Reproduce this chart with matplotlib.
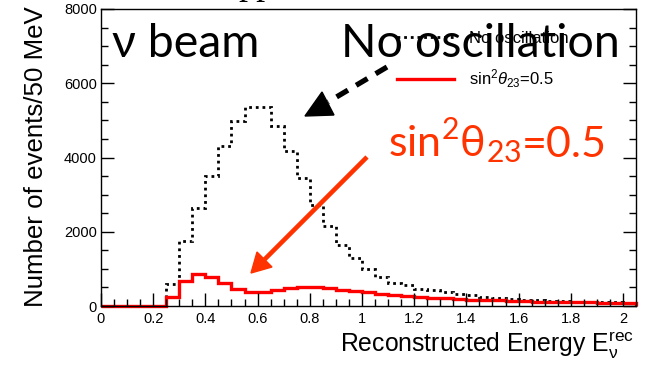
import numpy as np
import matplotlib
matplotlib.use('Agg')
import matplotlib.pyplot as plt
from matplotlib.lines import Line2D
from matplotlib.patches import Polygon

plt.rcParams['font.family'] = ['Liberation Sans', 'DejaVu Sans']
plt.rcParams['mathtext.fontset'] = 'custom'
plt.rcParams['mathtext.rm'] = 'Liberation Sans'
plt.rcParams['mathtext.it'] = 'Liberation Sans:italic'
plt.rcParams['mathtext.sf'] = 'Lato'

# histogram data, 50 MeV bins from 0 to 2.05 GeV
bin_edges = np.round(np.arange(0, 2.0501, 0.05), 2)
no_osc = [0, 0, 0, 0, 0, 600, 1750, 2650, 3500, 4310, 4980, 5370, 5370, 4860,
          4170, 3450, 2710, 2150, 1650, 1280, 990, 780, 630, 560, 470, 440,
          380, 330, 290, 250, 220, 200, 175, 160, 145, 130, 120, 110, 100, 95, 85]
osc = [0, 0, 0, 0, 0, 230, 665, 855, 775, 612, 470, 390, 390, 430, 485, 515,
       505, 475, 440, 405, 375, 335, 300, 270, 245, 225, 205, 190, 175, 160,
       150, 140, 130, 120, 110, 105, 100, 95, 90, 85, 80]
xticks = [0, 0.2, 0.4, 0.6, 0.8, 1.0, 1.2, 1.4, 1.6, 1.8, 2.0]
xticklabels = ['0', '0.2', '0.4', '0.6', '0.8', '1', '1.2', '1.4', '1.6', '1.8', '2']
yticks = [0, 2000, 4000, 6000, 8000]

W, H = 650, 365
fig = plt.figure(figsize=(6.5, 3.65), dpi=100)
ax = fig.add_axes([101/W, 1-306/H, 535/W, 297/H])

ax.stairs(no_osc, bin_edges, color='black', lw=2, linestyle=(0, (1, 1.4)),
          label='No oscillation', clip_on=False)
ax.stairs(osc, bin_edges, color='red', lw=2.4, label=r'sin$^{2}\theta_{23}$=0.5',
          clip_on=False)

ax.set_xlim(0, 2.05)
ax.set_ylim(0, 8000)
ax.set_xticks(xticks)
ax.set_xticklabels(xticklabels)
ax.set_xticks(np.arange(0, 2.05, 0.05), minor=True)
ax.set_yticks(yticks)
ax.set_yticks(np.arange(0, 8001, 500), minor=True)
ax.tick_params(which='both', direction='in', left=True, right=True, top=False,
               bottom=True, labelsize=10.5, width=1)
ax.tick_params(which='major', length=9.5)
ax.tick_params(which='minor', length=5)
ax.tick_params(axis='x', pad=4)
ax.tick_params(axis='y', pad=3)
for s in ax.spines.values():
    s.set_linewidth(1)

leg = ax.legend(loc='upper left', bbox_to_anchor=(397/W, 1-31/H),
                bbox_transform=fig.transFigure, frameon=False, fontsize=12,
                handlelength=3.4, handletextpad=0.9, labelspacing=1.3,
                borderpad=0, borderaxespad=0)

fig.text(634/W, 1-352/H, r'Reconstructed Energy E$_{\mathrm{\nu}}^{\mathrm{rec}}$',
         ha='right', va='baseline', fontsize=17.8)
fig.text(36/W, 1-157/H, 'Number of events/50 MeV', rotation=90,
         ha='center', va='center', fontsize=18.6)

# clipped title from slide
fig.text(238/W, 1+6/H, 'pp', family='Liberation Serif', fontsize=26,
         va='baseline')

big = ['Lato', 'DejaVu Sans']
fig.text(112/W, 1-57/H, 'ν beam', family=big, fontsize=33.5, va='baseline')
fig.text(341/W, 1-57/H, 'No oscillation', family=big, fontsize=33.5,
         va='baseline', zorder=10)

red2 = '#ff3300'
t1 = fig.text(388/W, 1-157/H,
              r'$\mathsf{sin}^{\mathsf{2}}\mathsf{\theta}_{\mathsf{23}}$',
              color=red2, fontsize=31, va='baseline')
r = fig.canvas.get_renderer()
x_end = t1.get_window_extent(r).x1
fig.text(x_end / W, 1-157/H, '=0.5', family=big, color=red2, fontsize=31,
         va='baseline')

def fpx(x, y):
    return (x, H - y)

# dashed black arrow
bx = [387, 328]
by = [67, 102]
fig.add_artist(Line2D(bx, [H - v for v in by], transform=None, color='black',
                      lw=3.8, linestyle=(0, (2.5, 1.8))))
fig.add_artist(Polygon([fpx(305, 116), fpx(322, 92), fpx(334, 115)],
                       closed=True, transform=None, color='black'))

# red arrow
fig.add_artist(Line2D([367, 262], [H - 157, H - 262], transform=None,
                      color=red2, lw=3.3, solid_capstyle='butt'))
fig.add_artist(Polygon([fpx(251, 273), fpx(257, 252), fpx(272, 267)],
                       closed=True, transform=None, color=red2))

fig.savefig('out.png', dpi=100)
